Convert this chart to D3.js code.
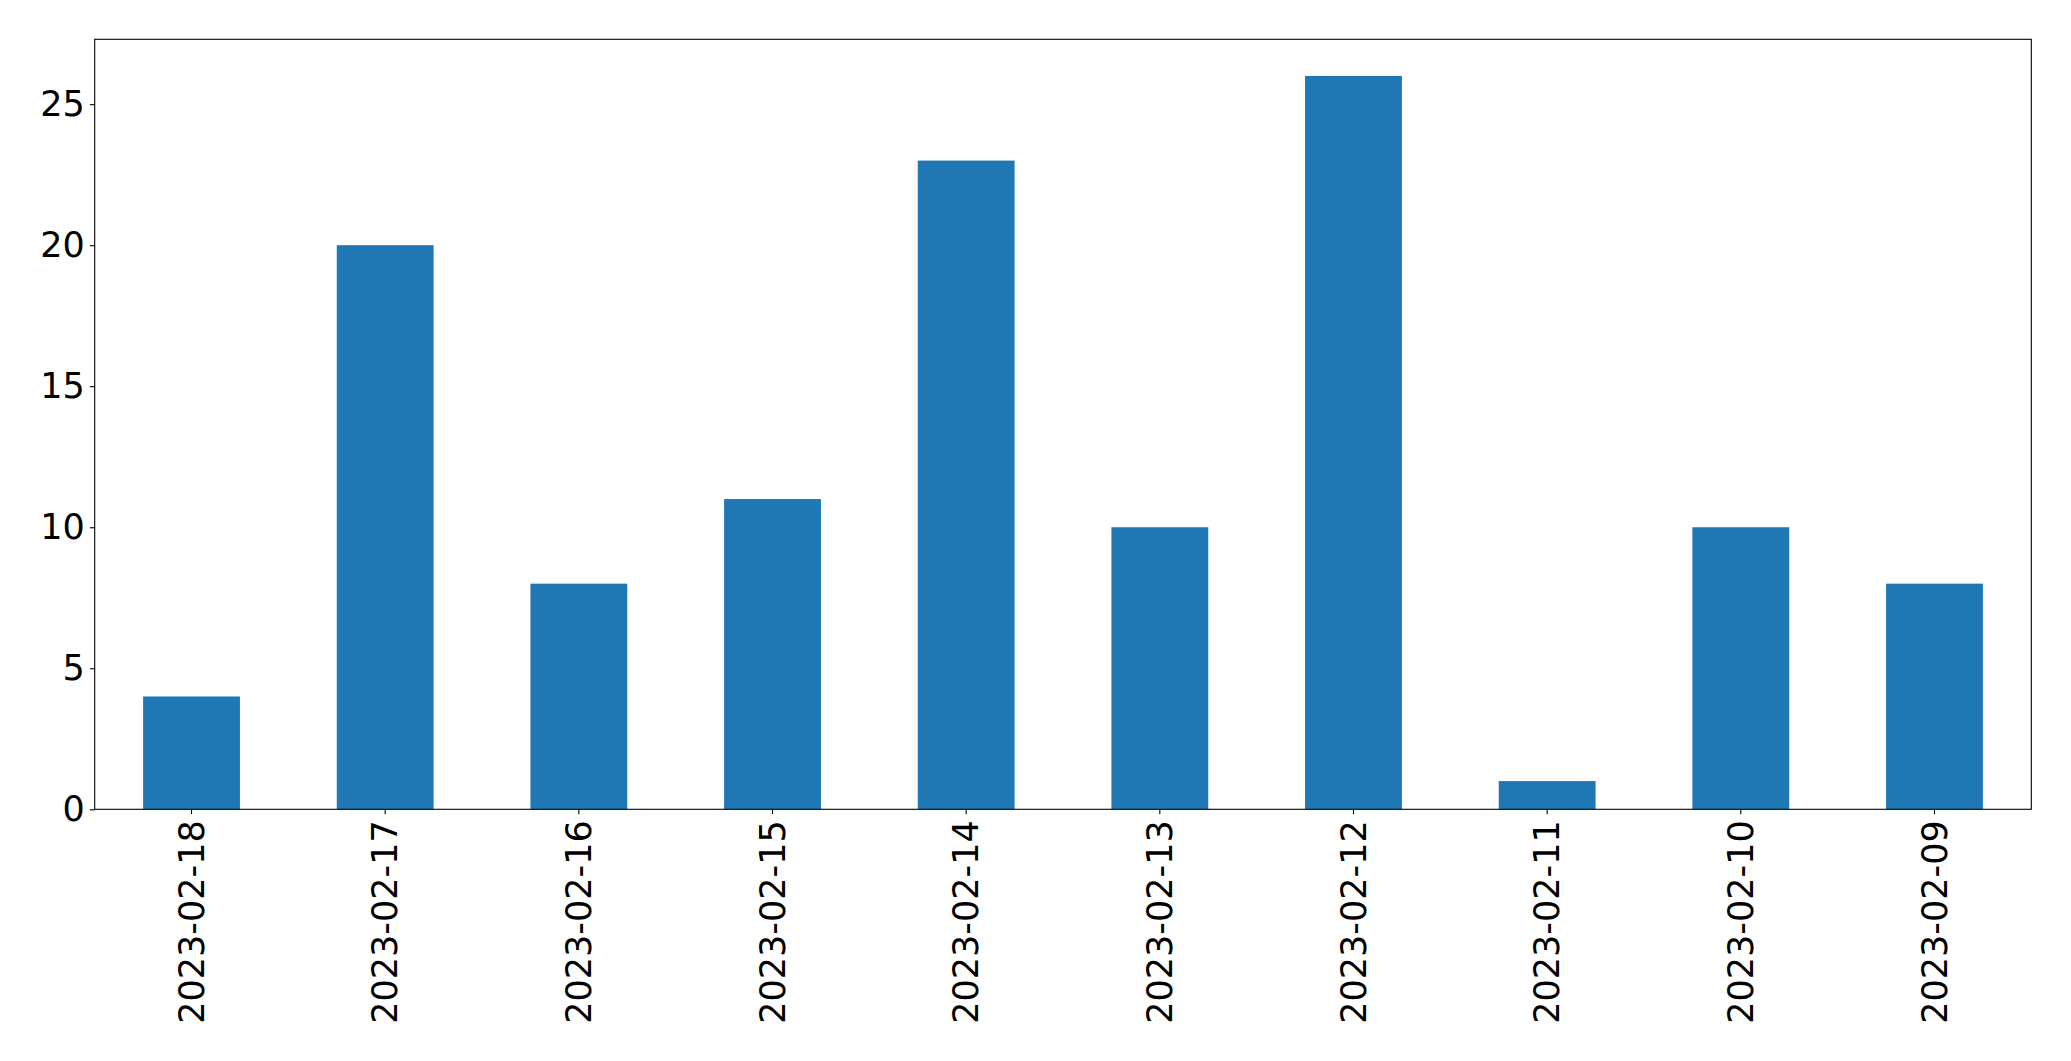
<!DOCTYPE html>
<html>
<head>
<meta charset="utf-8">
<script src="https://cdn.jsdelivr.net/npm/d3@7"></script>
<style>
  body { margin: 0; background: #fff; }
  svg text { font-family: "DejaVu Sans", sans-serif; }
</style>
</head>
<body>
<div id="chart"></div>
<script>
var categories = ["2023-02-18", "2023-02-17", "2023-02-16", "2023-02-15", "2023-02-14",
                  "2023-02-13", "2023-02-12", "2023-02-11", "2023-02-10", "2023-02-09"];
var values = [4, 20, 8, 11, 23, 10, 26, 1, 10, 8];
var yTicks = [0, 5, 10, 15, 20, 25];

var w = 2071, h = 1061;
// plot area edges (window.top is reserved, so use other names)
var plotLeft = 94.7, plotRight = 2031.3, plotTop = 39.3, plotBottom = 809.3;

var svg = d3.select("#chart")
      .append("svg")
      .attr("width", w)
      .attr("height", h);

var x = d3.scaleBand()
      .domain(categories)
      .range([plotLeft, plotRight])
      .paddingInner(0.5)
      .paddingOuter(0.25);

var y = d3.scaleLinear()
      .domain([0, d3.max(values) * 1.05])
      .range([plotBottom, plotTop]);

// bars
svg.selectAll("rect.bar")
   .data(values)
   .enter()
   .append("rect")
   .attr("class", "bar")
   .attr("x", function(d, i) { return x(categories[i]); })
   .attr("y", function(d) { return y(d); })
   .attr("width", x.bandwidth())
   .attr("height", function(d) { return plotBottom - y(d); })
   .attr("fill", "#1f77b4");

// y axis
var yAxis = svg.append("g")
      .attr("transform", "translate(" + plotLeft + ",0)")
      .call(d3.axisLeft(y).tickValues(yTicks).tickSize(4.9).tickPadding(4.9));
yAxis.select(".domain").remove();
yAxis.selectAll("line").attr("stroke", "#000").attr("stroke-width", 1.1);
yAxis.selectAll("text")
     .attr("font-size", "35px")
     .attr("fill", "#000")
     .attr("font-family", "DejaVu Sans, sans-serif");

// x axis
var xAxis = svg.append("g")
      .attr("transform", "translate(0," + plotBottom + ")")
      .call(d3.axisBottom(x).tickSize(4.9).tickPadding(0));
xAxis.select(".domain").remove();
xAxis.selectAll("line").attr("stroke", "#000").attr("stroke-width", 1.1);
xAxis.selectAll("text")
     .attr("font-size", "35px")
     .attr("fill", "#000")
     .attr("font-family", "DejaVu Sans, sans-serif")
     .attr("text-anchor", "end")
     .attr("x", 0)
     .attr("y", 0)
     .attr("dy", "0.35em")
     .attr("transform", "translate(0,11) rotate(-90)");

// frame
svg.append("rect")
   .attr("x", plotLeft)
   .attr("y", plotTop)
   .attr("width", plotRight - plotLeft)
   .attr("height", plotBottom - plotTop)
   .attr("fill", "none")
   .attr("stroke", "#000")
   .attr("stroke-width", 1.1);
</script>
</body>
</html>
